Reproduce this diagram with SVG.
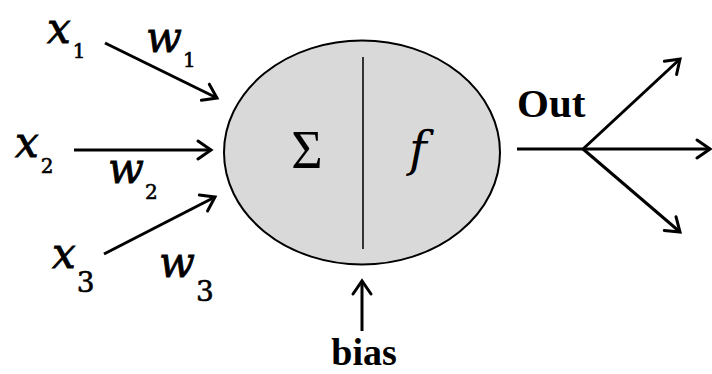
<svg xmlns="http://www.w3.org/2000/svg" width="712" height="374" viewBox="0 0 712 374">
<style>
.ln{stroke:#000;stroke-width:3;fill:none;marker-end:url(#ah)}
.var{font-family:"DejaVu Serif",serif;font-style:italic;font-size:42px;fill:#000;stroke:#000;stroke-width:0.8}
.sub{font-family:"DejaVu Serif",serif;font-style:normal;font-size:20px;stroke-width:0.6}
.sub3{font-family:"DejaVu Serif",serif;font-style:normal;font-size:28px;stroke-width:0.6}
.bold{font-family:"Liberation Serif","Times New Roman",serif;font-weight:bold;fill:#000}
</style>
<defs>
<marker id="ah" markerUnits="userSpaceOnUse" markerWidth="30" markerHeight="30" refX="15" refY="10" orient="auto" viewBox="0 0 30 20">
<path d="M2,1 L15,10 L2,19" fill="none" stroke="#000" stroke-width="3" stroke-linecap="round" stroke-linejoin="miter"/>
</marker>
</defs>
<rect width="712" height="374" fill="#fff"/>
<g id="connectors">
<line class="ln" x1="105" y1="43" x2="217" y2="98"/>
<line class="ln" x1="74" y1="150" x2="211" y2="150"/>
<line class="ln" x1="104" y1="254" x2="215" y2="197"/>
<line class="ln" x1="362" y1="331" x2="362" y2="281"/>
<path d="M517,149 L583,149" stroke="#000" stroke-width="3" fill="none"/>
<line class="ln" x1="583" y1="149" x2="680" y2="59"/>
<line class="ln" x1="583" y1="149" x2="710" y2="149"/>
<line class="ln" x1="583" y1="149" x2="680" y2="232"/>
</g>
<g id="neuron">
<ellipse cx="362" cy="152.5" rx="138" ry="112" fill="#d9d9d9" stroke="#000" stroke-width="2"/>
<line x1="363" y1="57" x2="363" y2="249" stroke="#333" stroke-width="2"/>
<text x="307" y="168" font-family="Liberation Serif,serif" font-size="54" text-anchor="middle">Σ</text>
<text x="418" y="166" font-family="DejaVu Serif,serif" font-style="italic" font-size="48" text-anchor="middle">f</text>
</g>
<g id="x1"><text class="var" x="47" y="43">x<tspan class="sub" dx="2" dy="15">1</tspan></text></g>
<g id="w1"><text class="var" x="146" y="52">w<tspan class="sub" dx="1" dy="15">1</tspan></text></g>
<g id="x2"><text class="var" x="15" y="157">x<tspan class="sub" dx="2" dy="16">2</tspan></text></g>
<g id="w2"><text class="var" x="108" y="183">w<tspan class="sub" dx="1" dy="16">2</tspan></text></g>
<g id="x3"><text class="var" x="52" y="268">x<tspan class="sub3" dx="1" dy="24">3</tspan></text></g>
<g id="w3"><text class="var" x="159" y="277">w<tspan class="sub3" dx="1" dy="24">3</tspan></text></g>
<g id="out"><text class="bold" x="517" y="117" font-size="41">Out</text></g>
<g id="bias"><text class="bold" x="364" y="365" font-size="38" text-anchor="middle">bias</text></g>
</svg>
